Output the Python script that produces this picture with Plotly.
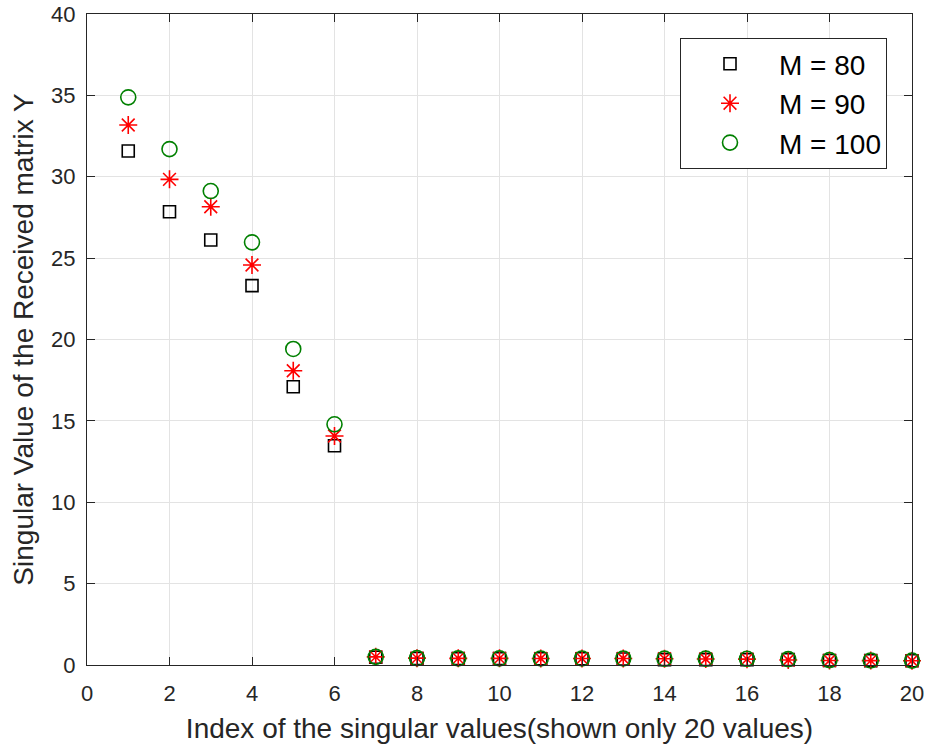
import plotly.graph_objects as go

idx = list(range(1, 21))
m80 = [31.58, 27.85, 26.11, 23.31, 17.10, 13.47, 0.48, 0.40, 0.39, 0.39, 0.38, 0.38, 0.37, 0.33, 0.33, 0.33, 0.33, 0.28, 0.27, 0.26]
m90 = [33.18, 29.84, 28.16, 24.58, 18.08, 14.07, 0.50, 0.42, 0.41, 0.41, 0.40, 0.40, 0.40, 0.38, 0.37, 0.36, 0.31, 0.28, 0.27, 0.26]
m100 = [34.88, 31.70, 29.12, 25.97, 19.42, 14.79, 0.50, 0.42, 0.41, 0.41, 0.40, 0.40, 0.40, 0.39, 0.39, 0.38, 0.36, 0.30, 0.28, 0.27]

x_ticks = list(range(0, 21, 2))
y_ticks = list(range(0, 41, 5))

fig = go.Figure()
fig.add_trace(go.Scatter(x=idx, y=m80, mode="markers", name="M = 80", cliponaxis=False,
                         marker=dict(symbol="square-open", size=12, color="black",
                                     line=dict(color="black", width=1.6))))
fig.add_trace(go.Scatter(x=idx, y=m90, mode="markers", name="M = 90", cliponaxis=False,
                         marker=dict(symbol="asterisk-open", size=15, color="red",
                                     line=dict(color="red", width=1.6))))
fig.add_trace(go.Scatter(x=idx, y=m100, mode="markers", name="M = 100", cliponaxis=False,
                         marker=dict(symbol="circle-open", size=15, color="green",
                                     line=dict(color="green", width=1.6))))

axis_common = dict(showgrid=True, gridcolor="#e3e3e3", gridwidth=1,
                   showline=True, linecolor="#262626", linewidth=1, mirror="ticks",
                   ticks="inside", ticklen=8, tickcolor="#262626",
                   zeroline=False, tickfont=dict(size=22, color="#262626"),
                   title_font=dict(size=28, color="#262626"),
                   ticklabeloverflow="allow")

fig.update_xaxes(range=[0, 20], tickvals=x_ticks, ticktext=[str(v) for v in x_ticks],
                 title_text="Index of the singular values(shown only 20 values)",
                 title_standoff=12, ticklabelstandoff=9, **axis_common)
fig.update_yaxes(range=[0, 40], tickvals=y_ticks, ticktext=[str(v) for v in y_ticks],
                 title_text="Singular Value of the Received matrix Y",
                 title_standoff=9, ticklabelstandoff=6, **axis_common)

fig.update_layout(
    width=928, height=754,
    margin=dict(l=87, r=16, t=14, b=89, autoexpand=False),
    paper_bgcolor="white", plot_bgcolor="white",
    font=dict(family="Liberation Sans, Arial, sans-serif", color="#262626"),
    legend=dict(x=0.9697, y=0.963, xanchor="right", yanchor="top",
                bgcolor="white", bordercolor="#262626", borderwidth=1,
                font=dict(size=28, color="black"), itemsizing="trace",
                itemwidth=88),
    showlegend=True,
)

fig.write_html("out.html")
